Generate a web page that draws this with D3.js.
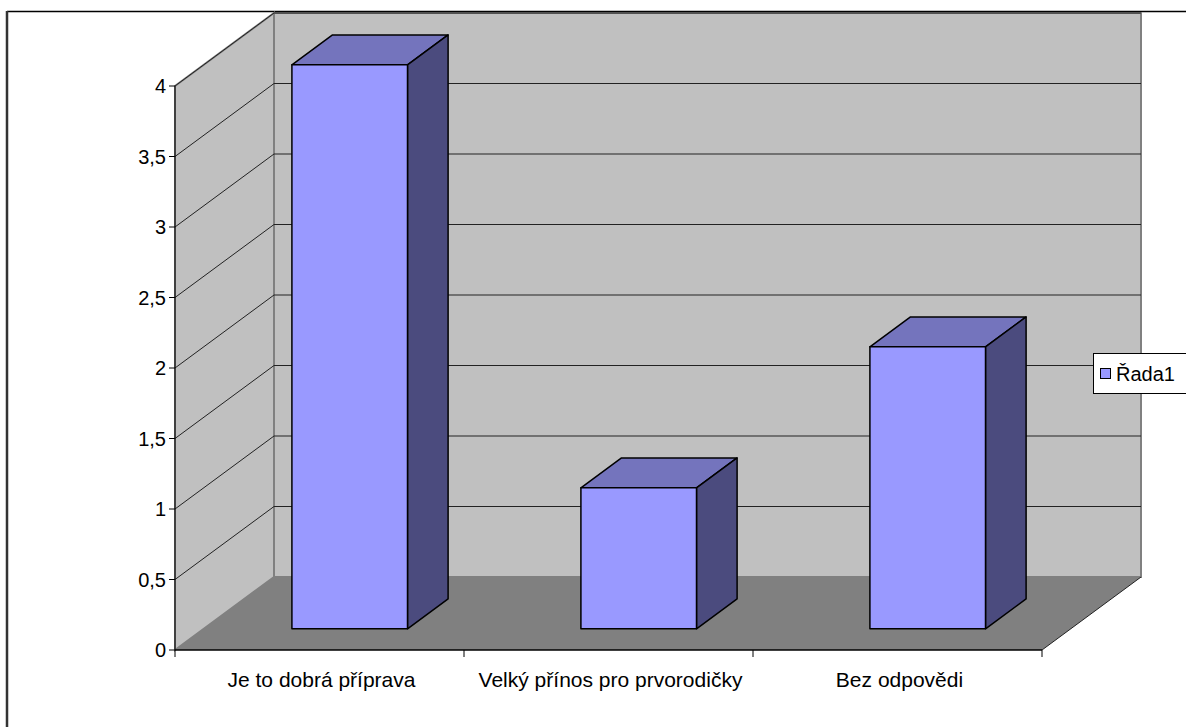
<!DOCTYPE html>
<html>
<head>
<meta charset="utf-8">
<script src="https://cdn.jsdelivr.net/npm/d3@7"></script>
<style>
  html, body { margin: 0; padding: 0; background: #fff; }
  svg { display: block; font-family: "Liberation Sans", Arial, sans-serif; }
</style>
</head>
<body>
<svg id="chart" width="1186" height="727"></svg>
<script>
const categories = ["Je to dobrá příprava", "Velký přínos pro prvorodičky", "Bez odpovědi"];
const values = [4, 1, 2];
const seriesName = "Řada1";
const yTicks = [0, 0.5, 1, 1.5, 2, 2.5, 3, 3.5, 4];
const yTickLabels = ["0", "0,5", "1", "1,5", "2", "2,5", "3", "3,5", "4"];

const svg = d3.select("#chart");

// plot geometry
const x0 = 175, x1 = 1042, yBase = 650, yTop = 86;
const DX = 99, DY = -73;       // depth offset of the 3D box
const barD0 = 0.29, barD1 = 0.70; // depth fraction of bars
const barFrac = 0.4;
const FS = 20;

const x = d3.scaleBand().domain(categories).range([x0, x1]).padding(0);
const y = d3.scaleLinear().domain([0, 4]).range([yBase, yTop]);

const P = (px, v, d) => [px + d * DX, y(v) + d * DY];
const poly = pts => "M" + pts.map(p => p.join(",")).join("L") + "Z";

// outer chart border (top and left visible)
svg.append("line").attr("x1", 7).attr("x2", 1186).attr("y1", 11.5).attr("y2", 11.5)
  .attr("stroke", "#000").attr("stroke-width", 1.5);
svg.append("line").attr("x1", 7).attr("x2", 7).attr("y1", 11).attr("y2", 727)
  .attr("stroke", "#333").attr("stroke-width", 2.5);

// back wall
svg.append("path").attr("d", poly([P(x0, 0, 1), P(x1, 0, 1), P(x1, 4, 1), P(x0, 4, 1)]))
  .attr("fill", "#c0c0c0").attr("stroke", "#808080").attr("stroke-width", 2);
// side wall
svg.append("path").attr("d", poly([P(x0, 0, 0), P(x0, 0, 1), P(x0, 4, 1), P(x0, 4, 0)]))
  .attr("fill", "#c0c0c0").attr("stroke", "#808080").attr("stroke-width", 2);
// floor
svg.append("path").attr("d", poly([P(x0, 0, 0), P(x1, 0, 0), P(x1, 0, 1), P(x0, 0, 1)]))
  .attr("fill", "#808080").attr("stroke", "none");
svg.append("path").attr("d", "M" + P(x1, 0, 0).join(",") + "L" + P(x1, 0, 1).join(","))
  .attr("stroke", "#222").attr("stroke-width", 1).attr("fill", "none");

// gridlines
const grid = svg.append("g");
yTicks.filter(t => t > 0).forEach(t => {
  grid.append("path")
    .attr("d", "M" + P(x0, t, 0).join(",") + "L" + P(x0, t, 1).join(",") + "L" + P(x1, t, 1).join(","))
    .attr("fill", "none").attr("stroke", "#222").attr("stroke-width", 1);
});

// bars
const bars = svg.append("g");
categories.forEach((c, i) => {
  const v = values[i];
  const cx = x(c) + x.bandwidth() / 2 + 1.5;
  const w = x.bandwidth() * barFrac;
  const l = cx - w / 2, r = cx + w / 2;
  const add = (pts, fill) => {
    bars.append("path").attr("d", poly(pts)).attr("fill", fill)
      .attr("stroke", "#000").attr("stroke-width", 1.5).attr("stroke-linejoin", "round");
  };
  // top
  add([P(l, v, barD0), P(r, v, barD0), P(r, v, barD1), P(l, v, barD1)], "#7474bd");
  // right side
  add([P(r, 0, barD0), P(r, 0, barD1), P(r, v, barD1), P(r, v, barD0)], "#4b4b7e");
  // front
  add([P(l, 0, barD0), P(r, 0, barD0), P(r, v, barD0), P(l, v, barD0)], "#9999ff");
});

// y axis
const yAxis = svg.append("g");
yAxis.append("line").attr("x1", x0).attr("x2", x0).attr("y1", y(4)).attr("y2", y(0))
  .attr("stroke", "#000").attr("stroke-width", 1);
yTicks.forEach((t, i) => {
  yAxis.append("line").attr("x1", x0 - 6).attr("x2", x0).attr("y1", y(t)).attr("y2", y(t))
    .attr("stroke", "#000");
  yAxis.append("text").attr("x", x0 - 9).attr("y", y(t)).attr("dy", "0.36em")
    .attr("text-anchor", "end").attr("font-size", FS).attr("fill", "#000")
    .text(yTickLabels[i]);
});

// x axis
const xAxis = svg.append("g");
xAxis.append("line").attr("x1", x0).attr("x2", x1).attr("y1", yBase).attr("y2", yBase)
  .attr("stroke", "#000").attr("stroke-width", 1.5);
const tickXs = categories.map(c => x(c)).concat([x1]);
tickXs.forEach(tx => {
  xAxis.append("line").attr("x1", tx).attr("x2", tx).attr("y1", yBase).attr("y2", yBase + 7)
    .attr("stroke", "#000");
});
categories.forEach(c => {
  xAxis.append("text").attr("x", x(c) + x.bandwidth() / 2 + 2).attr("y", 687)
    .attr("text-anchor", "middle").attr("font-size", 21).attr("fill", "#000").text(c);
});

// legend
const lg = svg.append("g");
lg.append("rect").attr("x", 1093.5).attr("y", 353.5).attr("width", 100).attr("height", 40)
  .attr("fill", "#fff").attr("stroke", "#000").attr("stroke-width", 1);
lg.append("rect").attr("x", 1100.5).attr("y", 368.5).attr("width", 10).attr("height", 10)
  .attr("fill", "#9999ff").attr("stroke", "#000").attr("stroke-width", 1);
lg.append("text").attr("x", 1116).attr("y", 381).attr("font-size", FS).attr("fill", "#000").text(seriesName);
</script>
</body>
</html>
